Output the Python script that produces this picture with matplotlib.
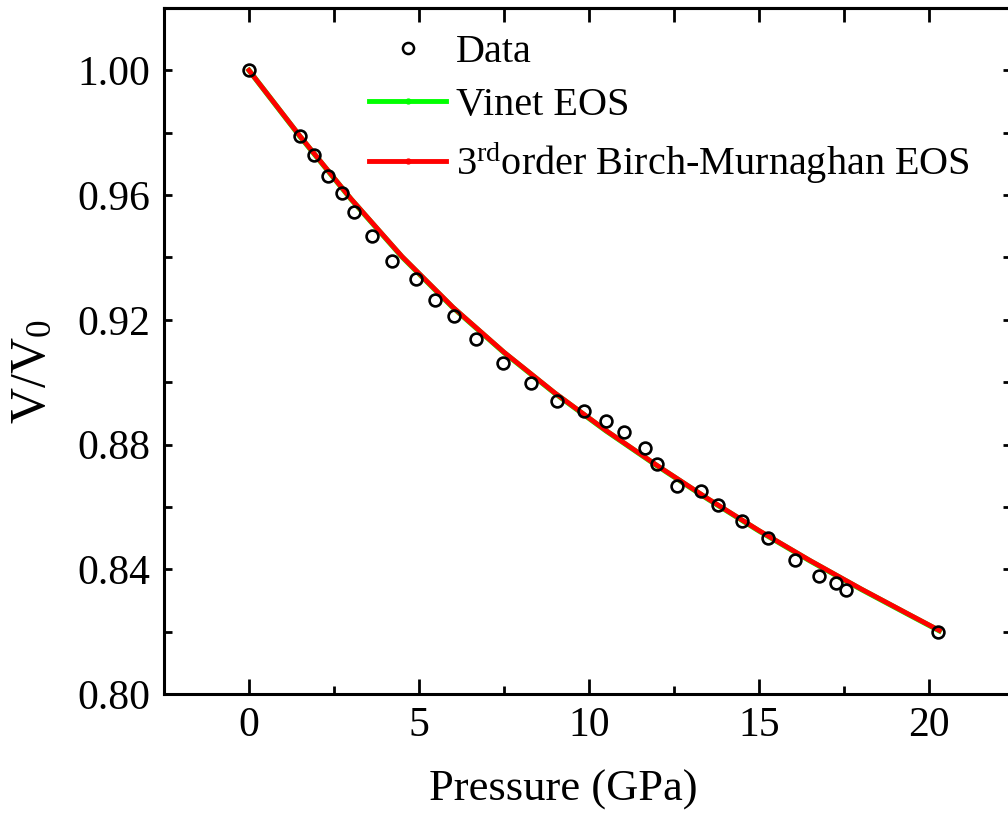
import matplotlib
matplotlib.use("Agg")
import matplotlib.pyplot as plt
from matplotlib.lines import Line2D
from matplotlib.ticker import MultipleLocator

plt.rcParams['font.family'] = ['Liberation Serif', 'DejaVu Serif']
plt.rcParams['mathtext.default'] = 'regular'

# measured points
pressure = [0.00, 1.51, 1.90, 2.32, 2.74, 3.10, 3.61, 4.21, 4.90, 5.46,
            6.04, 6.68, 7.46, 8.30, 9.06, 9.84, 10.49, 11.02, 11.65, 12.01,
            12.58, 13.29, 13.78, 14.49, 15.27, 16.06, 16.76, 17.25, 17.55, 20.27]
vol_ratio = [1.0000, 0.9790, 0.9727, 0.9662, 0.9607, 0.9546, 0.9469, 0.9388, 0.9332, 0.9264,
             0.9211, 0.9139, 0.9063, 0.8996, 0.8940, 0.8907, 0.8876, 0.8841, 0.8788, 0.8739,
             0.8667, 0.8650, 0.8606, 0.8555, 0.8500, 0.8429, 0.8377, 0.8356, 0.8332, 0.8198]

# fitted curves
fit_p = [0.0, 1.5, 3.0, 4.5, 6.0, 7.5, 9.0, 10.5, 12.0, 13.5, 15.0, 16.5, 18.0, 19.5, 20.3]
vinet_v = [1.0000, 0.9788, 0.9587, 0.9402, 0.9239, 0.9095, 0.8964, 0.8844, 0.8732, 0.8625,
           0.8523, 0.8427, 0.8336, 0.8249, 0.8203]
bm_v = [1.0000, 0.9789, 0.9588, 0.9403, 0.9240, 0.9096, 0.8965, 0.8845, 0.8733, 0.8626,
        0.8524, 0.8428, 0.8337, 0.8250, 0.8204]

fig = plt.figure(figsize=(10.08, 8.18), dpi=100)
# right spine falls just outside the picture, as in the original crop
ax = fig.add_axes([164/1008, 124/818, 847/1008, 686/818])

ax.plot(pressure, vol_ratio, 'o', ms=8.5, mfc='none', mec='black', mew=1.9, zorder=3)
ax.plot(fit_p, vinet_v, color='#00ff00', lw=3.8, zorder=1)
ax.plot(fit_p, bm_v, color='#ff0000', lw=3.5, zorder=2)

ax.set_xlim(-2.5, 22.41)
ax.set_ylim(0.80, 1.02)
ax.xaxis.set_major_locator(MultipleLocator(5))
ax.xaxis.set_minor_locator(MultipleLocator(2.5))
ax.yaxis.set_major_locator(MultipleLocator(0.04))
ax.yaxis.set_minor_locator(MultipleLocator(0.02))
ax.yaxis.set_major_formatter(matplotlib.ticker.FormatStrFormatter('%.2f'))

for sp in ax.spines.values():
    sp.set_linewidth(2.2)
ax.tick_params(axis='x', which='major', direction='in', length=10.5, width=2, labelsize=30, pad=9)
ax.tick_params(axis='x', which='minor', direction='in', length=5.8, width=2)
ax.tick_params(axis='y', which='both', direction='in', length=6, width=2, right=True, labelsize=30, pad=10)

# top axis: all ticks same length
top = ax.secondary_xaxis('top')
top.set_xticks([0, 2.5, 5, 7.5, 10, 12.5, 15, 17.5, 20])
top.tick_params(direction='in', length=10, width=2, labeltop=False)
top.spines['top'].set_linewidth(2.2)

ax.set_xlabel('Pressure (GPa)', fontsize=32)
ax.xaxis.set_label_coords(0.472, -0.11)
ax.set_ylabel('V/V$_0$', fontsize=36)
ax.yaxis.set_label_coords(-0.127, 0.47)

handles = [
    Line2D([], [], ls='none', marker='o', ms=8, mfc='none', mec='black', mew=1.8),
    Line2D([], [], color='#00ff00', lw=3.5, marker='o', ms=3.5),
    Line2D([], [], color='#ff0000', lw=3.5, marker='o', ms=3.5),
]
labels = ['Data', 'Vinet EOS', '3$^{rd}$order Birch-Murnaghan EOS']
ax.legend(handles, labels, loc='upper left', bbox_to_anchor=(0.2426, 0.962),
          frameon=False, fontsize=29, numpoints=1, handlelength=1.9,
          handletextpad=0.25, labelspacing=0.38, borderaxespad=0, borderpad=0)

fig.savefig('out.png', dpi=100)
